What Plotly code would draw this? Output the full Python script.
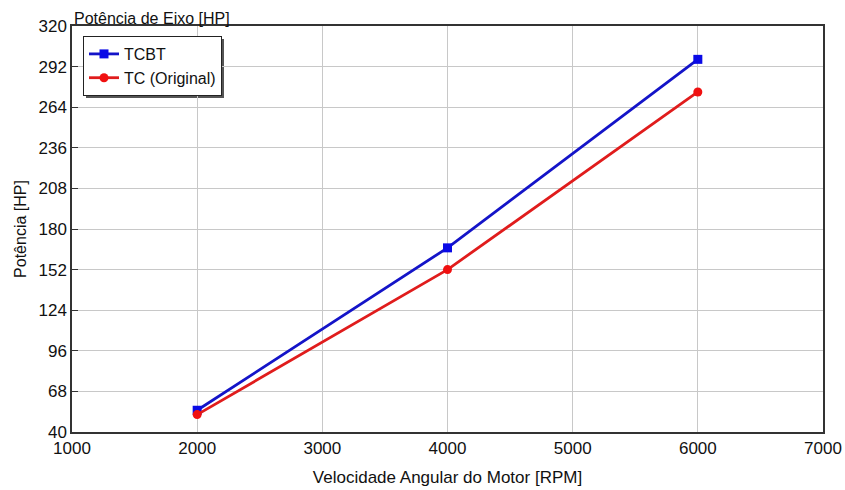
import plotly.graph_objects as go

# Engine speed [RPM] and shaft power [HP]
rpm = [2000, 4000, 6000]
tcbt_hp = [55, 167, 297]
tc_original_hp = [52, 152, 274.5]

x_ticks = [1000, 2000, 3000, 4000, 5000, 6000, 7000]
y_ticks = [40, 68, 96, 124, 152, 180, 208, 236, 264, 292, 320]

FONT = "Liberation Sans, Arial, sans-serif"

fig = go.Figure()

fig.add_trace(go.Scatter(
    x=rpm, y=tcbt_hp, name="TCBT",
    mode="lines+markers",
    line=dict(color="#1414c8", width=2.8),
    marker=dict(symbol="square", size=9, color="#0a0ae6"),
))
fig.add_trace(go.Scatter(
    x=rpm, y=tc_original_hp, name="TC (Original)",
    mode="lines+markers",
    line=dict(color="#e01c1c", width=2.8),
    marker=dict(symbol="circle", size=9, color="#f01010"),
))

# legend drop shadow (paper coords, plot area 72..823 x 26..432)
fig.add_shape(type="rect", xref="paper", yref="paper",
              x0=(86 - 72) / 751, x1=(224 - 72) / 751,
              y0=(432 - 98) / 406, y1=(432 - 39) / 406,
              fillcolor="#555555", line=dict(width=0), layer="below")

fig.update_layout(
    width=845, height=490,
    paper_bgcolor="white",
    plot_bgcolor="white",
    margin=dict(l=72, r=22, t=26, b=58),
    font=dict(family=FONT, color="#111111", size=16),
    showlegend=True,
    legend=dict(
        x=(83 - 72) / 751, y=(432 - 36) / 406, xanchor="left", yanchor="top",
        bgcolor="white", bordercolor="#222222", borderwidth=1,
        font=dict(size=16, family=FONT),
        tracegroupgap=0, itemwidth=30,
    ),
    xaxis=dict(
        range=[1000, 7000], tickvals=x_ticks,
        showgrid=True, gridcolor="#c8c8c8", gridwidth=1,
        showline=True, linecolor="#333333", linewidth=1.5, mirror=True,
        ticks="", tickfont=dict(size=17), automargin=False,
        title=dict(text="Velocidade Angular do Motor [RPM]", font=dict(size=17), standoff=14),
        zeroline=False,
    ),
    yaxis=dict(
        range=[40, 320], tickvals=y_ticks,
        showgrid=True, gridcolor="#c8c8c8", gridwidth=1,
        showline=True, linecolor="#333333", linewidth=1.5, mirror=True,
        ticks="inside", ticklen=6, tickcolor="#333333", tickfont=dict(size=17),
        automargin=False,
        title=dict(text="Potência [HP]", font=dict(size=16), standoff=8),
        zeroline=False,
    ),
    annotations=[dict(
        text="Potência de Eixo [HP]", xref="paper", yref="paper",
        x=0, y=1, xanchor="left", yanchor="bottom", showarrow=False,
        font=dict(size=16, family=FONT), yshift=-3,
    )],
)

# drop the page's default body margin so the figure sits at the window origin
fig.write_html("out.html", config={"displayModeBar": False},
               post_script="document.body.style.margin='0px';")
